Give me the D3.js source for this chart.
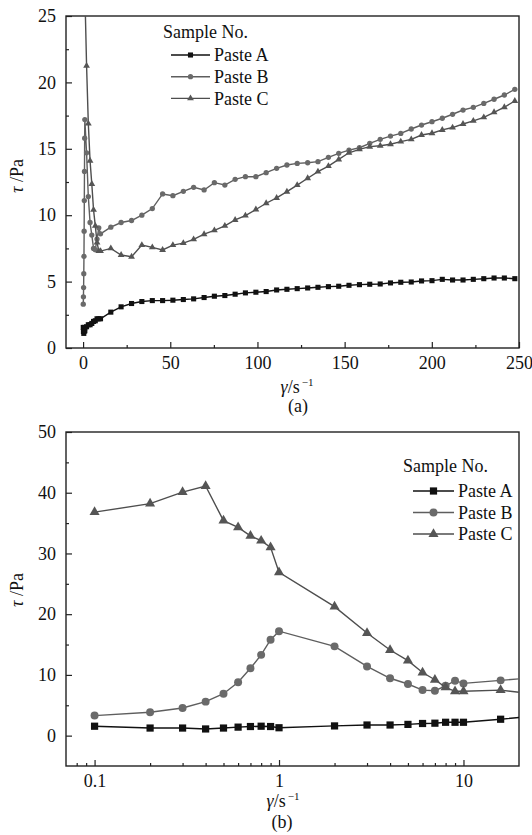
<!DOCTYPE html>
<html>
<head>
<meta charset="utf-8">
<script src="https://cdn.jsdelivr.net/npm/d3@7"></script>
<style>
  body { margin: 0; background: #fff; }
  svg text { font-family: "Liberation Serif", "Times New Roman", serif; fill: #111; }
</style>
</head>
<body>
<div id="viz"></div>
<script>
// shear rate (1/s), shared by the three pastes
const shearRate = [0.1, 0.2, 0.3, 0.4, 0.5, 0.6, 0.7, 0.8, 0.9,
    1, 2, 3, 4, 5, 6, 7, 8, 9, 10,
    15.9, 21.8, 27.8, 33.7, 39.7, 45.6, 51.5, 57.5, 63.4, 69.4,
    75.3, 81.3, 87.2, 93.1, 99.1, 105, 111, 116.9, 122.8, 128.8,
    134.7, 140.7, 146.6, 152.5, 158.5, 164.4, 170.4, 176.3, 182.2, 188.2,
    194.1, 200.1, 206, 211.9, 217.9, 223.8, 229.8, 235.7, 241.6, 247.6];

// shear stress (Pa)
const pasteA = [1.55, 1.25, 1.25, 1.1, 1.25, 1.4, 1.5, 1.55, 1.5,
    1.3, 1.6, 1.75, 1.75, 1.85, 2.0, 2.05, 2.2, 2.2, 2.2,
    2.7, 3.1, 3.35, 3.5, 3.57, 3.57, 3.6, 3.65, 3.7, 3.8,
    3.9, 3.95, 4.05, 4.15, 4.2, 4.25, 4.37, 4.42, 4.47, 4.52,
    4.57, 4.62, 4.65, 4.72, 4.77, 4.8, 4.82, 4.9, 4.95, 4.97,
    5.05, 5.07, 5.17, 5.12, 5.12, 5.17, 5.22, 5.27, 5.27, 5.22];

const pasteB = [3.3, 3.85, 4.55, 5.6, 6.9, 8.8, 11.1, 13.3, 15.8,
    17.2, 14.7, 11.4, 9.45, 8.5, 7.5, 7.4, 8.2, 9.05, 8.6,
    9.1, 9.45, 9.6, 10.0, 10.5, 11.6, 11.47, 11.8, 12.1, 11.9,
    12.45, 12.27, 12.7, 12.9, 12.9, 13.2, 13.53, 13.78, 13.9, 13.95,
    14.03, 14.36, 14.66, 14.9, 15.08, 15.41, 15.71, 15.96, 16.16, 16.49,
    16.79, 17.04, 17.3, 17.6, 17.92, 18.12, 18.42, 18.73, 19.05, 19.48];

const pasteC = [36.8, 38.2, 40.1, 41.1, 35.4, 34.3, 32.9, 32.1, 31.0,
    26.9, 21.25, 16.9, 14.1, 12.35, 10.4, 9.2, 7.95, 7.3, 7.3,
    7.5, 7.0, 6.87, 7.75, 7.58, 7.38, 7.75, 7.9, 8.18, 8.57,
    8.86, 9.2, 9.64, 9.97, 10.43, 10.9, 11.3, 11.77, 12.27, 12.78,
    13.28, 13.7, 14.2, 14.7, 14.96, 15.16, 15.23, 15.34, 15.54, 15.71,
    16.04, 16.17, 16.42, 16.6, 16.87, 17.1, 17.37, 17.75, 18.13, 18.6];

const seriesNames = ['Paste A', 'Paste B', 'Paste C'];
const legendTitle = 'Sample No.';

const xTicksA = [0, 50, 100, 150, 200, 250],
    xMinorA = [25, 75, 125, 175, 225],
    yTicksA = [0, 5, 10, 15, 20, 25],
    yMinorA = [2.5, 7.5, 12.5, 17.5, 22.5];

const xTicksB = [0.1, 1, 10],
    xMinorB = [0.08, 0.09, 0.2, 0.3, 0.4, 0.5, 0.6, 0.7, 0.8, 0.9, 2, 3, 4, 5, 6, 7, 8, 9],
    yTicksB = [0, 10, 20, 30, 40, 50],
    yMinorB = [5, 15, 25, 35, 45];

const series = [pasteA, pasteB, pasteC];
const lineColors = ['#111', '#5e5e5e', '#4e4e4e'],
    markColors = ['#111', '#6a6a6a', '#555'],
    symbols = [d3.symbolSquare, d3.symbolCircle, d3.symbolTriangle],
    fontFamily = '"Liberation Serif", "Times New Roman", serif';

const width = 532, height = 835;

const svg = d3.select('#viz')
    .append('svg')
    .attr('width', width)
    .attr('height', height);

const defs = svg.append('defs');

function styleAxis(sel) {
    sel.select('.domain').remove();
    sel.selectAll('line').attr('stroke', '#222').attr('stroke-width', 1.2);
    sel.selectAll('text').attr('font-size', 18).attr('font-family', fontFamily).attr('fill', '#111');
}

function drawPanel(p) {
    const g = svg.append('g');

    defs.append('clipPath').attr('id', 'clip-' + p.id)
        .append('rect')
        .attr('x', p.left).attr('y', p.top)
        .attr('width', p.right - p.left).attr('height', p.bottom - p.top);

    // major + minor ticks, pointing inwards
    g.append('g').attr('transform', `translate(0,${p.bottom})`)
        .call(d3.axisBottom(p.x).tickValues(p.xTicks).tickSize(-6).tickSizeOuter(0).tickPadding(8).tickFormat(d => d))
        .call(styleAxis);
    g.append('g').attr('transform', `translate(0,${p.bottom})`)
        .call(d3.axisBottom(p.x).tickValues(p.xMinor).tickSize(-3).tickSizeOuter(0).tickFormat(''))
        .call(styleAxis);
    g.append('g').attr('transform', `translate(${p.left},0)`)
        .call(d3.axisLeft(p.y).tickValues(p.yTicks).tickSize(-6).tickSizeOuter(0).tickPadding(10).tickFormat(d => d))
        .call(styleAxis);
    g.append('g').attr('transform', `translate(${p.left},0)`)
        .call(d3.axisLeft(p.y).tickValues(p.yMinor).tickSize(-3).tickSizeOuter(0).tickFormat(''))
        .call(styleAxis);

    // frame
    g.append('rect')
        .attr('x', p.left).attr('y', p.top)
        .attr('width', p.right - p.left).attr('height', p.bottom - p.top)
        .attr('fill', 'none')
        .attr('stroke', '#222')
        .attr('stroke-width', 1.4);

    const plot = g.append('g').attr('clip-path', `url(#clip-${p.id})`);

    const line = d3.line()
        .x((d, i) => p.x(shearRate[i]))
        .y(d => p.y(d));

    series.forEach(function(values, s) {
        plot.append('path')
            .datum(values)
            .attr('d', line)
            .attr('fill', 'none')
            .attr('stroke', lineColors[s])
            .attr('stroke-width', p.lineWidth);

        plot.selectAll('.mark' + s)
            .data(values)
            .enter().append('path')
            .attr('class', 'mark' + s)
            .attr('transform', (d, i) => `translate(${p.x(shearRate[i])},${p.y(d)})`)
            .attr('d', d3.symbol().type(symbols[s]).size(p.markSize[s]))
            .attr('fill', markColors[s]);
    });

    // legend
    const lg = g.append('g');
    lg.append('text')
        .attr('x', p.legend.x).attr('y', p.legend.y)
        .attr('dy', '0.35em')
        .attr('font-size', 18)
        .text(legendTitle);
    seriesNames.forEach(function(name, s) {
        const cy = p.legend.y + p.legend.first + s * p.legend.step;
        lg.append('line')
            .attr('x1', p.legend.x1).attr('x2', p.legend.x2)
            .attr('y1', cy).attr('y2', cy)
            .attr('stroke', lineColors[s])
            .attr('stroke-width', p.lineWidth);
        lg.append('path')
            .attr('transform', `translate(${(p.legend.x1 + p.legend.x2) / 2},${cy})`)
            .attr('d', d3.symbol().type(symbols[s]).size(p.markSize[s]))
            .attr('fill', markColors[s]);
        lg.append('text')
            .attr('x', p.legend.x2 + 4).attr('y', cy)
            .attr('dy', '0.35em')
            .attr('font-size', 18)
            .text(name);
    });

    // y title
    const yt = g.append('text')
        .attr('transform', `translate(${p.yTitle.x},${p.yTitle.y}) rotate(-90)`)
        .attr('text-anchor', 'middle')
        .attr('dy', '0.35em')
        .attr('font-size', 18);
    yt.append('tspan').attr('font-style', 'italic').text('τ');
    yt.append('tspan').text(' /Pa');

    // x title
    const xt = g.append('text')
        .attr('x', p.xTitle.x).attr('y', p.xTitle.y)
        .attr('text-anchor', 'middle')
        .attr('dy', '0.35em')
        .attr('font-size', 18);
    xt.append('tspan').attr('font-style', 'italic').text('γ');
    xt.append('tspan').text('/s');
    xt.append('tspan').attr('font-size', 11).attr('dy', '-0.7em').attr('dx', 2).text('−1');

    g.append('text')
        .attr('x', p.label.x).attr('y', p.label.y)
        .attr('text-anchor', 'middle')
        .attr('dy', '0.35em')
        .attr('font-size', 18)
        .text(p.label.text);
}

drawPanel({
    id: 'a',
    left: 66, right: 519, top: 16, bottom: 348,
    x: d3.scaleLinear().domain([-9.8, 250]).range([66, 519]),
    y: d3.scaleLinear().domain([0, 25]).range([348, 16]),
    xTicks: xTicksA, xMinor: xMinorA, yTicks: yTicksA, yMinor: yMinorA,
    lineWidth: 1.4,
    markSize: [26, 22, 20],
    legend: {x: 163, y: 32, first: 23, step: 21.7, x1: 171, x2: 210},
    yTitle: {x: 17, y: 176},
    xTitle: {x: 297, y: 387},
    label: {x: 298, y: 406, text: '(a)'}
});

drawPanel({
    id: 'b',
    left: 66, right: 519, top: 432, bottom: 766,
    x: d3.scaleLog().domain([0.07, 20]).range([66, 519]),
    y: d3.scaleLinear().domain([-5, 50]).range([766, 432]),
    xTicks: xTicksB, xMinor: xMinorB, yTicks: yTicksB, yMinor: yMinorB,
    lineWidth: 1.4,
    markSize: [52, 50, 44],
    legend: {x: 403, y: 466, first: 25, step: 21.5, x1: 413, x2: 454},
    yTitle: {x: 17, y: 590},
    xTitle: {x: 283, y: 801},
    label: {x: 282, y: 822, text: '(b)'}
});
</script>
</body>
</html>
